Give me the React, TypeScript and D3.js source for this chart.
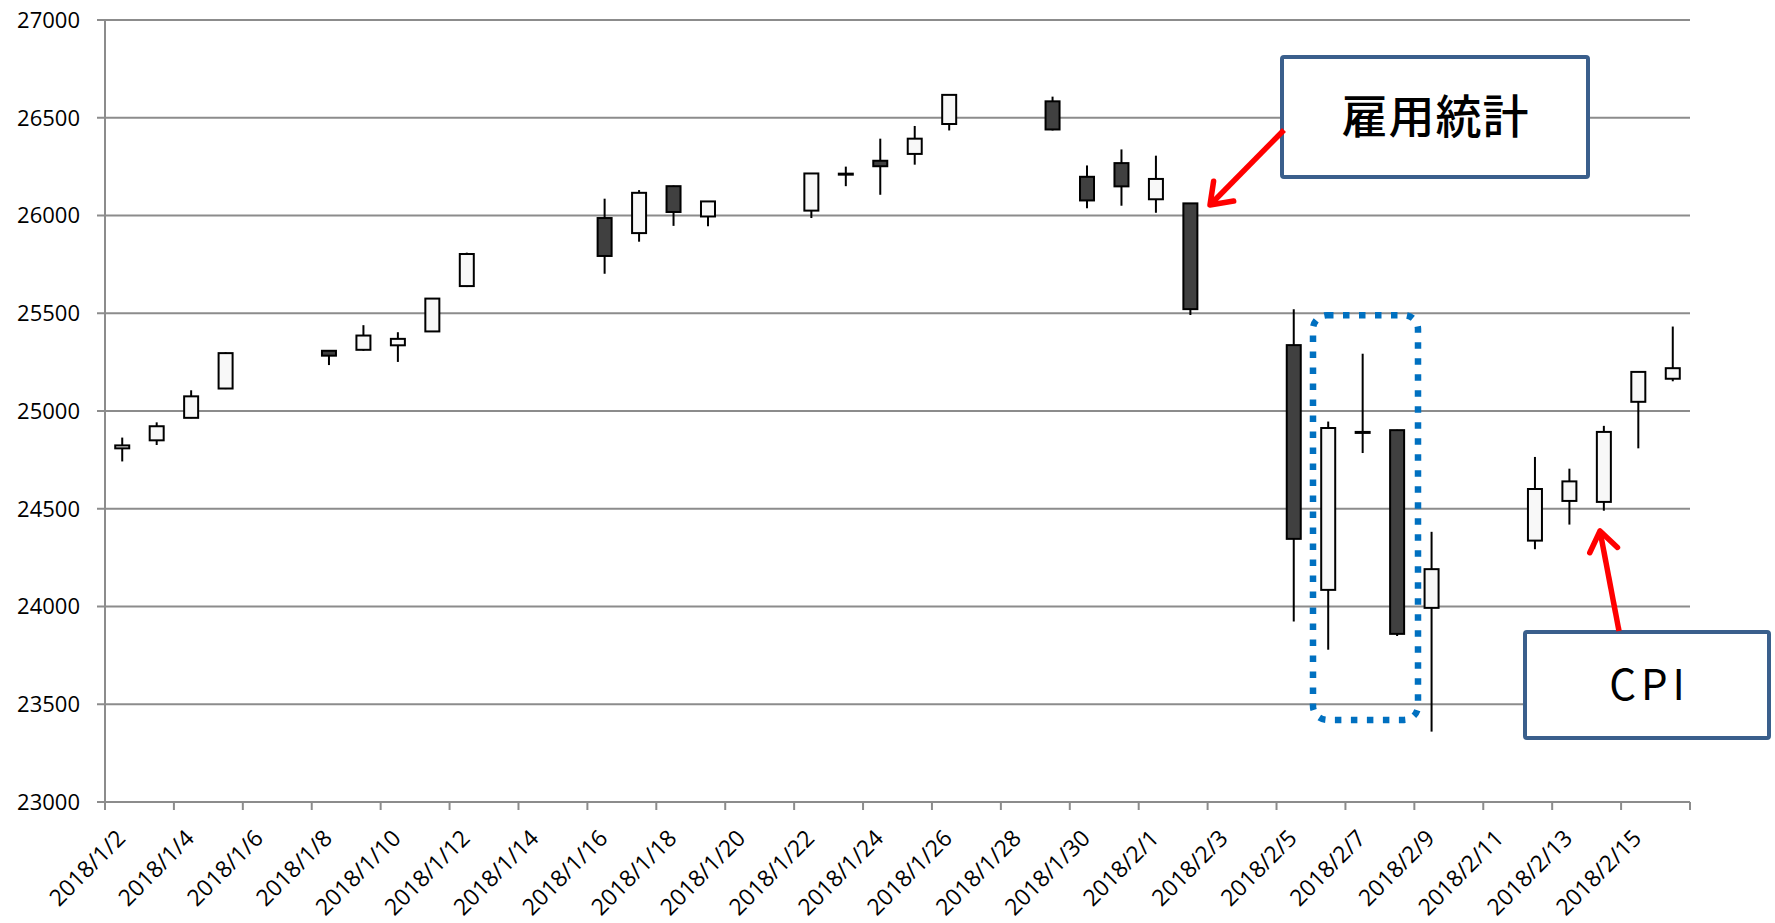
import React, { useRef, useEffect } from 'react';
import * as d3 from 'd3';

// trading days and OHLC values
const dates = [
  '2018/1/2', '2018/1/3', '2018/1/4', '2018/1/5', '2018/1/8', '2018/1/9', '2018/1/10', '2018/1/11', '2018/1/12',
  '2018/1/16', '2018/1/17', '2018/1/18', '2018/1/19', '2018/1/22', '2018/1/23', '2018/1/24', '2018/1/25', '2018/1/26',
  '2018/1/29', '2018/1/30', '2018/1/31', '2018/2/1', '2018/2/2', '2018/2/5', '2018/2/6', '2018/2/7', '2018/2/8',
  '2018/2/9', '2018/2/12', '2018/2/13', '2018/2/14', '2018/2/15', '2018/2/16',
];
const opens = [
  24809, 24850, 24965, 25115, 25308, 25313, 25336, 25407, 25639,
  25987, 25910, 26150, 25995, 26025, 26214, 26280, 26315, 26468,
  26584, 26198, 26268, 26083, 26062, 25337, 24085, 24892, 24902,
  23993, 24337, 24540, 24535, 25047, 25165,
];
const highs = [
  24864, 24942, 25106, 25300, 25312, 25439, 25403, 25575, 25810,
  26086, 26130, 26153, 26072, 26215, 26250, 26393, 26458, 26617,
  26608, 26256, 26338, 26306, 26062, 25520, 24946, 25293, 24904,
  24382, 24765, 24705, 24924, 25203, 25432,
];
const lows = [
  24742, 24826, 24963, 25112, 25235, 25308, 25251, 25405, 25634,
  25702, 25866, 25947, 25945, 25987, 26150, 26106, 26260, 26435,
  26435, 26037, 26050, 26014, 25491, 23923, 23779, 24785, 23849,
  23360, 24293, 24419, 24490, 24809, 25152,
];
const closes = [
  24824, 24922, 25075, 25296, 25283, 25386, 25369, 25575, 25803,
  25793, 26116, 26018, 26072, 26215, 26211, 26252, 26393, 26617,
  26440, 26077, 26149, 26187, 25521, 24346, 24913, 24893, 23860,
  24191, 24601, 24640, 24893, 25200, 25219,
];

const yTicks = [23000, 23500, 24000, 24500, 25000, 25500, 26000, 26500, 27000];
const xTickLabels = [
  '2018/1/2', '2018/1/4', '2018/1/6', '2018/1/8', '2018/1/10', '2018/1/12', '2018/1/14', '2018/1/16',
  '2018/1/18', '2018/1/20', '2018/1/22', '2018/1/24', '2018/1/26', '2018/1/28', '2018/1/30', '2018/2/1',
  '2018/2/3', '2018/2/5', '2018/2/7', '2018/2/9', '2018/2/11', '2018/2/13', '2018/2/15',
];
const xStart = '2018/1/2';
const xEnd = '2018/2/17';

const parseDay = (s: string) => {
  const [y, m, d] = s.split('/').map(Number);
  return new Date(Date.UTC(y, m - 1, d));
};

const App: React.FC = () => {
  const svgRef = useRef<SVGSVGElement>(null);

  useEffect(() => {
    if (!svgRef.current) return;
    const svg = d3.select(svgRef.current);
    svg.selectAll('*').remove();

    const left = 105, right = 1690, top = 20, bottom = 802;
    const font = '"Open Sans", "Liberation Sans", sans-serif';
    const gridColor = '#8c8c8c';

    const x = d3.scaleUtc().domain([parseDay(xStart), parseDay(xEnd)]).range([left, right]);
    const y = d3.scaleLinear().domain([23000, 27000]).range([bottom, top]);
    const halfDay = 12 * 3600 * 1000;
    const bodyW = 14;

    // gridlines
    svg.append('g')
      .selectAll('line')
      .data(yTicks)
      .enter().append('line')
      .attr('x1', left - 8).attr('x2', right)
      .attr('y1', d => y(d)).attr('y2', d => y(d))
      .attr('stroke', gridColor).attr('stroke-width', 2);

    // y axis line
    svg.append('line')
      .attr('x1', left).attr('x2', left).attr('y1', top).attr('y2', bottom + 8)
      .attr('stroke', gridColor).attr('stroke-width', 2);

    // y labels
    svg.append('g')
      .selectAll('text')
      .data(yTicks)
      .enter().append('text')
      .attr('x', 80).attr('y', d => y(d)).attr('dy', '0.36em')
      .attr('text-anchor', 'end')
      .style('font-family', font).style('font-size', '22px').style('fill', '#000')
      .text(d => String(d));

    // x ticks every 2 days
    const tickDays = d3.utcDay.range(parseDay(xStart), new Date(+parseDay(xEnd) + 1), 2);
    svg.append('g')
      .selectAll('line')
      .data(tickDays)
      .enter().append('line')
      .attr('x1', d => x(d)).attr('x2', d => x(d))
      .attr('y1', bottom).attr('y2', bottom + 8)
      .attr('stroke', gridColor).attr('stroke-width', 2);

    svg.append('g')
      .selectAll('text')
      .data(xTickLabels)
      .enter().append('text')
      .attr('transform', d => `translate(${x(parseDay(d)) + 16},${bottom + 32}) rotate(-45)`)
      .attr('dy', '0.35em')
      .attr('text-anchor', 'end')
      .style('font-family', font).style('font-size', '23px').style('fill', '#000')
      .text(d => d);

    // candles
    const candles = svg.append('g')
      .selectAll('g')
      .data(dates.map((d, i) => ({ date: parseDay(d), o: opens[i], h: highs[i], l: lows[i], c: closes[i] })))
      .enter().append('g');

    candles.append('line')
      .attr('x1', d => x(+d.date + halfDay)).attr('x2', d => x(+d.date + halfDay))
      .attr('y1', d => y(d.h)).attr('y2', d => y(d.l))
      .attr('stroke', '#000').attr('stroke-width', 2);

    candles.append('rect')
      .attr('x', d => x(+d.date + halfDay) - bodyW / 2)
      .attr('width', bodyW)
      .attr('y', d => y(Math.max(d.o, d.c)))
      .attr('height', d => Math.max(1, Math.abs(y(d.o) - y(d.c))))
      .attr('fill', d => (d.c >= d.o ? '#f8f8f8' : '#404040'))
      .attr('stroke', '#000').attr('stroke-width', 2);

    // blue dotted highlight around 2/6 - 2/8
    svg.append('rect')
      .attr('x', 1313).attr('y', y(25490))
      .attr('width', 105).attr('height', y(23420) - y(25490))
      .attr('rx', 14)
      .attr('fill', 'none')
      .attr('stroke', '#0070c0').attr('stroke-width', 6.5)
      .attr('stroke-dasharray', '6.5 9.5');

    // callout boxes
    const boxColor = '#3a5f8c';
    const callouts = [
      { x: 1282, y: 57, w: 306, h: 120, text: '雇用統計', size: 46, family: '"Noto Sans CJK JP", sans-serif', spacing: 1, weight: 500 },
      { x: 1525, y: 632, w: 244, h: 106, text: 'CPI', size: 42, family: '"Noto Sans CJK JP", sans-serif', spacing: 5, weight: 400 },
    ];
    callouts.forEach(c => {
      svg.append('rect')
        .attr('x', c.x).attr('y', c.y).attr('width', c.w).attr('height', c.h)
        .attr('rx', 2)
        .attr('fill', '#fff')
        .attr('stroke', boxColor).attr('stroke-width', 4);
      svg.append('text')
        .attr('x', c.x + c.w / 2 + c.spacing / 2).attr('y', c.y + c.h / 2).attr('dy', '0.35em')
        .attr('text-anchor', 'middle')
        .style('font-family', c.family).style('font-size', `${c.size}px`).style('font-weight', c.weight)
        .style('letter-spacing', `${c.spacing}px`).style('fill', '#000')
        .text(c.text);
    });

    // red arrows
    const arrows = [
      { x1: 1284, y1: 130, x2: 1210, y2: 205 },
      { x1: 1619, y1: 631, x2: 1600, y2: 531 },
    ];
    arrows.forEach(a => {
      const ang = Math.atan2(a.y2 - a.y1, a.x2 - a.x1);
      const len = 24, spread = Math.PI / 5;
      const p1 = [a.x2 - len * Math.cos(ang - spread), a.y2 - len * Math.sin(ang - spread)];
      const p2 = [a.x2 - len * Math.cos(ang + spread), a.y2 - len * Math.sin(ang + spread)];
      svg.append('line')
        .attr('x1', a.x1).attr('y1', a.y1).attr('x2', a.x2).attr('y2', a.y2)
        .attr('stroke', '#ff0000').attr('stroke-width', 5.5);
      svg.append('path')
        .attr('d', `M${p1[0]},${p1[1]}L${a.x2},${a.y2}L${p2[0]},${p2[1]}`)
        .attr('fill', 'none')
        .attr('stroke', '#ff0000').attr('stroke-width', 5.5)
        .attr('stroke-linejoin', 'round').attr('stroke-linecap', 'round');
    });
  }, []);

  return (
    <div style={{ position: 'absolute', left: 0, top: 0, width: 1775, height: 923, background: '#fff' }}>
      <svg ref={svgRef} width={1775} height={923} viewBox="0 0 1775 923"></svg>
    </div>
  );
};

export default App;
